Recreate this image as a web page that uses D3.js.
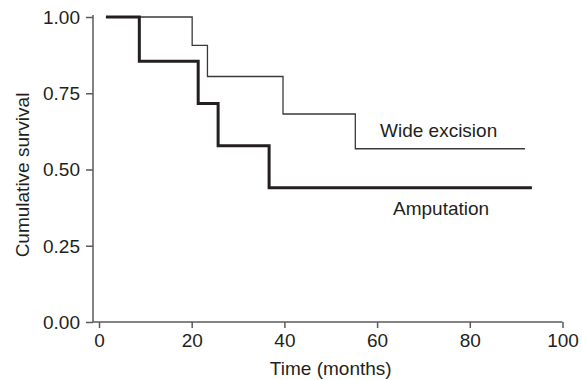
<!DOCTYPE html>
<html>
<head>
<meta charset="utf-8">
<script src="https://cdn.jsdelivr.net/npm/d3@7"></script>
<style>
  html, body { margin: 0; padding: 0; background: #fff; }
  svg { display: block; }
  text { font-family: "Liberation Sans", Arial, sans-serif; fill: #231f20; }
</style>
</head>
<body>
<svg id="chart" width="582" height="380"></svg>
<script>
// Kaplan-Meier step data (time in months, cumulative survival)
const wideTimes  = [1.5, 20.1, 23.4, 39.7, 55.3, 91.9];
const wideSurv   = [1.00, 0.907, 0.805, 0.682, 0.568, 0.568];
const ampTimes   = [1.5, 8.7, 21.4, 25.7, 36.7, 93.4];
const ampSurv    = [1.00, 0.855, 0.716, 0.578, 0.440, 0.440];
const xTicks = [0, 20, 40, 60, 80, 100];
const yTicks = [0, 0.25, 0.5, 0.75, 1.0];
const seriesLabels = ["Wide excision", "Amputation"];
const xTitle = "Time (months)";
const yTitle = "Cumulative survival";

const svg = d3.select("#chart");
const axisX0 = 93;
const fs = 19;
const x = d3.scaleLinear().domain([0, 100]).range([99, 562.5]);
const y = d3.scaleLinear().domain([0, 1]).range([322, 17]);

const axisColor = "#5a5a5a";

// X axis
const gx = svg.append("g").attr("transform", `translate(0,${y(0)})`)
  .call(d3.axisBottom(x).tickValues(xTicks).tickFormat(d3.format("d"))
        .tickSize(6).tickSizeOuter(0).tickPadding(6));
gx.select(".domain").attr("d", `M${axisX0},0H${x(100)}`);
// Y axis
const gy = svg.append("g").attr("transform", `translate(${axisX0},0)`)
  .call(d3.axisLeft(y).tickValues(yTicks).tickFormat(d3.format(".2f"))
        .tickSize(7).tickSizeOuter(0).tickPadding(6));
gy.select(".domain").attr("d", `M0,${y(0)}V15`);

[gx, gy].forEach(g => {
  g.selectAll(".domain, .tick line").attr("stroke", axisColor).attr("stroke-width", 1.5);
  g.selectAll(".tick text").attr("font-size", fs).attr("font-family", "Liberation Sans, Arial, sans-serif").attr("fill", "#231f20");
});
gy.selectAll(".tick text").attr("dy", "0.34em");

// Step lines
const line = d3.line().x(d => x(d[0])).y(d => y(d[1])).curve(d3.curveStepAfter);
const wideData = wideTimes.map((t, i) => [t, wideSurv[i]]);
const ampData = ampTimes.map((t, i) => [t, ampSurv[i]]);

svg.append("path").datum(wideData).attr("d", line)
  .attr("fill", "none").attr("stroke", "#3a3a3a").attr("stroke-width", 1.3);
svg.append("path").datum(ampData).attr("d", line)
  .attr("fill", "none").attr("stroke", "#231f20").attr("stroke-width", 3);

// Series labels
svg.append("text").attr("x", 380).attr("y", 136.5).attr("font-size", fs).text(seriesLabels[0]);
svg.append("text").attr("x", 393).attr("y", 215).attr("font-size", fs).text(seriesLabels[1]);

// Axis titles
svg.append("text").attr("x", x(50)).attr("y", 375).attr("text-anchor", "middle")
  .attr("font-size", fs).text(xTitle);
svg.append("text").attr("transform", `translate(29,175) rotate(-90)`)
  .attr("text-anchor", "middle").attr("font-size", fs).text(yTitle);
</script>
</body>
</html>
